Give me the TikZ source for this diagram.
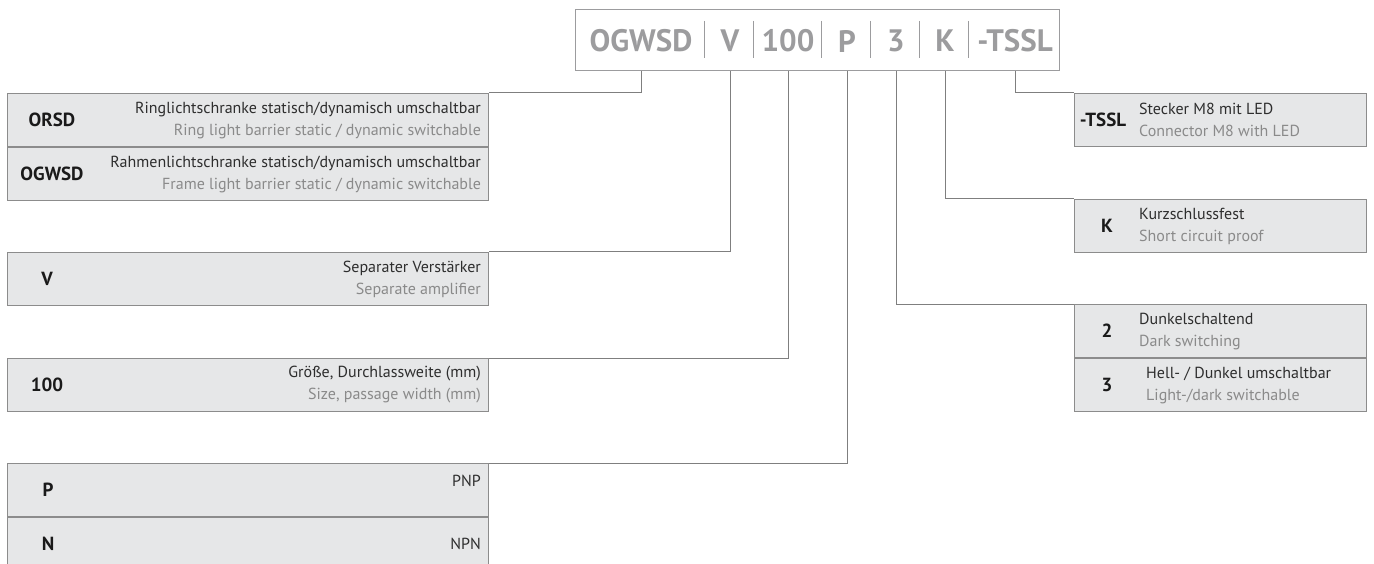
\documentclass[tikz,border=0pt]{standalone}
\usepackage{fontspec}
\setmainfont{PT Sans}
\usetikzlibrary{positioning}
\definecolor{boxfill}{HTML}{E6E7E8}
\definecolor{boxline}{HTML}{8C8C8C}
\definecolor{linkline}{HTML}{7F7F7F}
\definecolor{codetext}{HTML}{9C9C9E}
\definecolor{keytext}{HTML}{1A1A1A}
\definecolor{detext}{HTML}{2E2E2E}
\definecolor{entext}{HTML}{8A8A8A}
\newcommand{\de}[1]{{\color{detext}#1}}
\newcommand{\en}[1]{{\color{entext}#1}}

\begin{document}
\begin{tikzpicture}[x=1pt,y=-1pt,
    row/.style={draw=boxline, fill=boxfill, line width=1.1pt, minimum height=53pt, inner sep=0pt, anchor=north west},
    leftrow/.style={row, minimum width=481pt},
    rightrow/.style={row, minimum width=292pt},
    key/.style={font=\fontsize{19}{21}\selectfont\bfseries, text=keytext, inner sep=0pt},
    desc/.style={font=\fontsize{16}{22}\selectfont, inner sep=0pt},
    code/.style={font=\fontsize{31}{34}\selectfont\bfseries, text=codetext, inner sep=0pt},
    sepline/.style={draw=codetext, line width=1pt},
    link/.style={draw=linkline, line width=1pt},
    node distance=0pt
  ]
  \useasboundingbox (0,0) rectangle (1374,564);

  % type code
  \node[draw=codetext, line width=1.2pt, minimum width=484pt, minimum height=61pt, inner sep=0pt, anchor=north west] (codebox) at (575,9) {};
  \node[code] (c-ogwsd) at (641,41) {OGWSD};
  \node[code] (c-v)     at (730,41) {V};
  \node[code] (c-100)   at (788,41) {100};
  \node[code] (c-p)     at (847,41) {P};
  \node[code] (c-3)     at (896,41) {3};
  \node[code] (c-k)     at (945,41) {K};
  \node[code] (c-tssl)  at (1015,41) {-TSSL};
  \foreach \x in {704,753,821,870,919,968}
    \draw[sepline] (\x,21) -- (\x,58);

  % left column
  \node[leftrow] (orsd) at (7,93) {};
  \node[leftrow, below=of orsd] (ogwsd) {};
  \node[leftrow] (v) at (7,252) {};
  \node[leftrow] (size) at (7,358) {};
  \node[leftrow] (pnp) at (7,463) {};
  \node[leftrow, below=of pnp] (npn) {};

  \node[key] at ([xshift=45pt]orsd.west) {ORSD};
  \node[key] at ([xshift=45pt]ogwsd.west) {OGWSD};
  \node[key] at ([xshift=40pt]v.west) {V};
  \node[key] at ([xshift=40pt]size.west) {100};
  \node[key] at ([xshift=41pt]pnp.west) {P};
  \node[key] at ([xshift=41pt]npn.west) {N};

  \node[desc, align=right, anchor=east] at ([xshift=-8pt]orsd.east)
    {\de{Ringlichtschranke statisch/dynamisch umschaltbar}\\\en{Ring light barrier static / dynamic switchable}};
  \node[desc, align=right, anchor=east] at ([xshift=-8pt]ogwsd.east)
    {\de{Rahmenlichtschranke statisch/dynamisch umschaltbar}\\\en{Frame light barrier static / dynamic switchable}};
  \node[desc, align=right, anchor=east] at ([xshift=-8pt]v.east)
    {\de{Separater Verstärker}\\\en{Separate amplifier}};
  \node[desc, align=right, anchor=east] at ([xshift=-8pt]size.east)
    {\de{Größe, Durchlassweite (mm)}\\\en{Size, passage width (mm)}};
  \node[desc, anchor=east] at ([xshift=-8pt,yshift=9pt]pnp.east) {\de{PNP}};
  \node[desc, anchor=east] at ([xshift=-8pt]npn.east) {\de{NPN}};

  % right column
  \node[rightrow] (tssl) at (1074,93) {};
  \node[rightrow] (short) at (1074,199) {};
  \node[rightrow] (dark) at (1074,304) {};
  \node[rightrow, below=of dark] (switch) {};

  \node[key] at ([xshift=29pt]tssl.west) {-TSSL};
  \node[key] at ([xshift=33pt]short.west) {K};
  \node[key] at ([xshift=33pt]dark.west) {2};
  \node[key] at ([xshift=33pt]switch.west) {3};

  \node[desc, align=left, anchor=west] at ([xshift=65pt]tssl.west)
    {\de{Stecker M8 mit LED}\\\en{Connector M8 with LED}};
  \node[desc, align=left, anchor=west] at ([xshift=65pt]short.west)
    {\de{Kurzschlussfest}\\\en{Short circuit proof}};
  \node[desc, align=left, anchor=west] at ([xshift=65pt]dark.west)
    {\de{Dunkelschaltend}\\\en{Dark switching}};
  \node[desc, align=left, anchor=west] at ([xshift=72pt]switch.west)
    {\de{Hell- / Dunkel umschaltbar}\\\en{Light-/dark switchable}};

  % links
  \draw[link] (c-ogwsd |- codebox.south) |- (orsd.north east);
  \draw[link] (c-v |- codebox.south) |- (v.north east);
  \draw[link] (c-100 |- codebox.south) |- (size.north east);
  \draw[link] (c-p |- codebox.south) |- (pnp.north east);
  \draw[link] (c-3 |- codebox.south) |- (dark.north west);
  \draw[link] (c-k |- codebox.south) |- (short.north west);
  \draw[link] (c-tssl |- codebox.south) |- (tssl.north west);
\end{tikzpicture}
\end{document}
